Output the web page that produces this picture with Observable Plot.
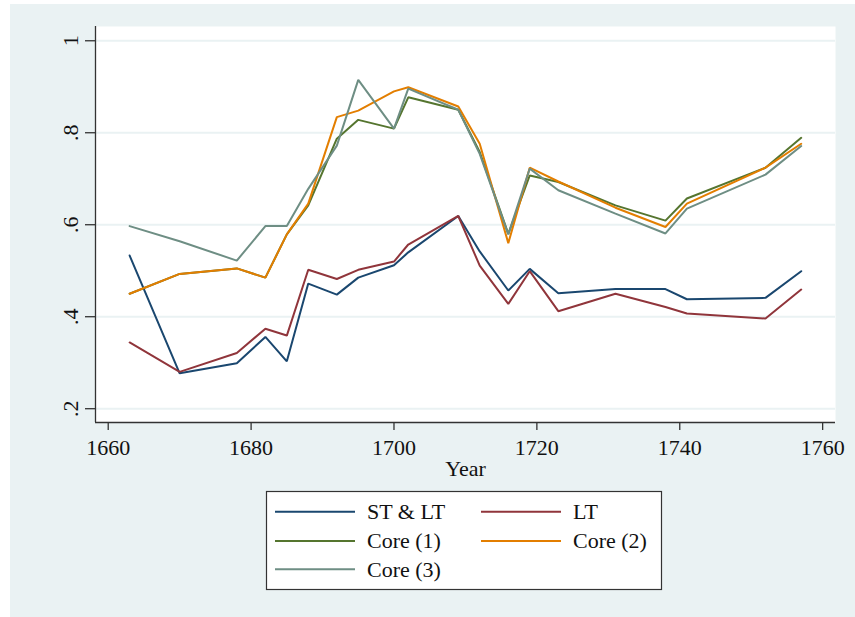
<!DOCTYPE html>
<html><head><meta charset="utf-8">
<script src="https://cdn.jsdelivr.net/npm/d3@7"></script>
<script src="https://cdn.jsdelivr.net/npm/@observablehq/plot@0.6"></script>
<style>
body{margin:0;background:#fff;}
#wrap{position:relative;width:855px;height:617px;background:#fff;overflow:hidden;}
#bg{position:absolute;left:10px;top:4px;width:845px;height:613px;background:#eaf2f3;}
#chart{position:absolute;left:0;top:0;}
#legend{position:absolute;left:0;top:0;}
</style></head><body>
<div id="wrap"><div id="bg"></div><div id="chart"></div><svg id="legend" width="855" height="617"></svg></div>
<script>
const years = [1663,1670,1678,1682,1685,1688,1692,1695,1700,1702,1709,1712,1716,1719,1723,1731,1738,1741,1752,1757];
const stlt  = [0.533,0.277,0.299,0.356,0.303,0.472,0.448,0.485,0.512,0.540,0.619,0.542,0.457,0.504,0.451,0.460,0.460,0.438,0.441,0.499];
const lt    = [0.344,0.280,0.321,0.374,0.359,0.502,0.482,0.502,0.520,0.557,0.619,0.511,0.428,0.499,0.412,0.450,0.421,0.407,0.396,0.459];
const core1 = [0.450,0.493,0.505,0.485,0.579,0.642,0.787,0.828,0.809,0.877,0.850,0.758,0.580,0.707,0.693,0.642,0.609,0.657,0.724,0.789];
const core2 = [0.450,0.493,0.505,0.485,0.579,0.646,0.834,0.848,0.890,0.899,0.857,0.776,0.560,0.724,0.694,0.637,0.595,0.646,0.724,0.776];
const core3 = [0.597,0.564,0.522,0.597,0.597,0.678,0.772,0.915,0.809,0.896,0.850,0.754,0.579,0.722,0.675,0.624,0.581,0.635,0.709,0.771];

const seriesNames  = ["ST & LT","LT","Core (1)","Core (2)","Core (3)"];
const seriesColors = ["#1a476f","#90353b","#55752f","#e37e00","#6e8e84"];
const seriesValues = [stlt, lt, core1, core2, core3];

const xTicks = [1660,1680,1700,1720,1740,1760];
const yTicks = [0.2,0.4,0.6,0.8,1];
const yTickLabels = [".2",".4",".6",".8","1"];
const xDomain = [1658.22, 1761.8];
const yDomain = [0.170, 1.031];
const xTitle = "Year";

const rows = [];
seriesNames.forEach((name, i) => years.forEach((yr, j) => rows.push({series: name, year: yr, value: seriesValues[i][j]})));

const font = "'Liberation Serif', 'Times New Roman', serif";
const fs = 22;
const axisColor = "#333";

const chart = Plot.plot({
  width: 855, height: 617,
  marginLeft: 95, marginRight: 20, marginTop: 26, marginBottom: 195,
  style: {background: "transparent", fontFamily: font, fontSize: fs + "px", color: "#111", overflow: "visible"},
  x: {domain: xDomain, axis: null, label: null},
  y: {domain: yDomain, axis: null, label: null},
  color: {domain: seriesNames, range: seriesColors},
  marks: [
    Plot.frame({fill: "white", stroke: null}),
    Plot.ruleY(yTicks, {y: d => d, stroke: "#eaf2f3", strokeWidth: 2}),
    Plot.line(rows, {x: "year", y: "value", stroke: "series", z: "series", strokeWidth: 2, strokeLinejoin: "miter"}),
    Plot.ruleX([xDomain[0]], {x: d => d, stroke: axisColor, strokeWidth: 1.3}),
    Plot.ruleY([yDomain[0]], {y: d => d, stroke: axisColor, strokeWidth: 1.3}),
    Plot.axisY({ticks: yTicks, tickSize: 10, tickFormat: () => "", stroke: axisColor, strokeWidth: 1.3, label: null}),
    Plot.text(yTicks, {y: d => d, text: (d, i) => yTickLabels[i], frameAnchor: "left", dx: -18, rotate: -90,
      textAnchor: "middle", lineAnchor: "bottom", fontSize: fs, fontFamily: font, fill: "#111"}),
    Plot.axisX({ticks: xTicks, tickSize: 8, tickPadding: 9, tickFormat: d => String(d), stroke: axisColor,
      strokeWidth: 1.3, fontSize: fs, fontFamily: font, fill: "#111", label: null}),
    Plot.text([xTitle], {text: d => d, frameAnchor: "bottom", dy: 53, lineAnchor: "bottom", fontSize: fs, fontFamily: font, fill: "#111"})
  ]
});
document.getElementById("chart").appendChild(chart);

// legend
const lg = d3.select("#legend");
lg.append("rect").attr("x", 266.5).attr("y", 491.5).attr("width", 395).attr("height", 98)
  .attr("fill", "white").attr("stroke", "#333").attr("stroke-width", 1.2);
const colX = [275, 481];
const rowY = [511.7, 541, 569.3];
seriesNames.forEach((name, i) => {
  const cx = colX[i % 2], cy = rowY[Math.floor(i / 2)];
  lg.append("line").attr("x1", cx).attr("x2", cx + 80).attr("y1", cy).attr("y2", cy)
    .attr("stroke", seriesColors[i]).attr("stroke-width", 2);
  lg.append("text").attr("x", cx + 92).attr("y", cy + 7.3).attr("font-family", font).attr("font-size", fs)
    .attr("fill", "#111").text(name);
});
</script>
</body></html>
